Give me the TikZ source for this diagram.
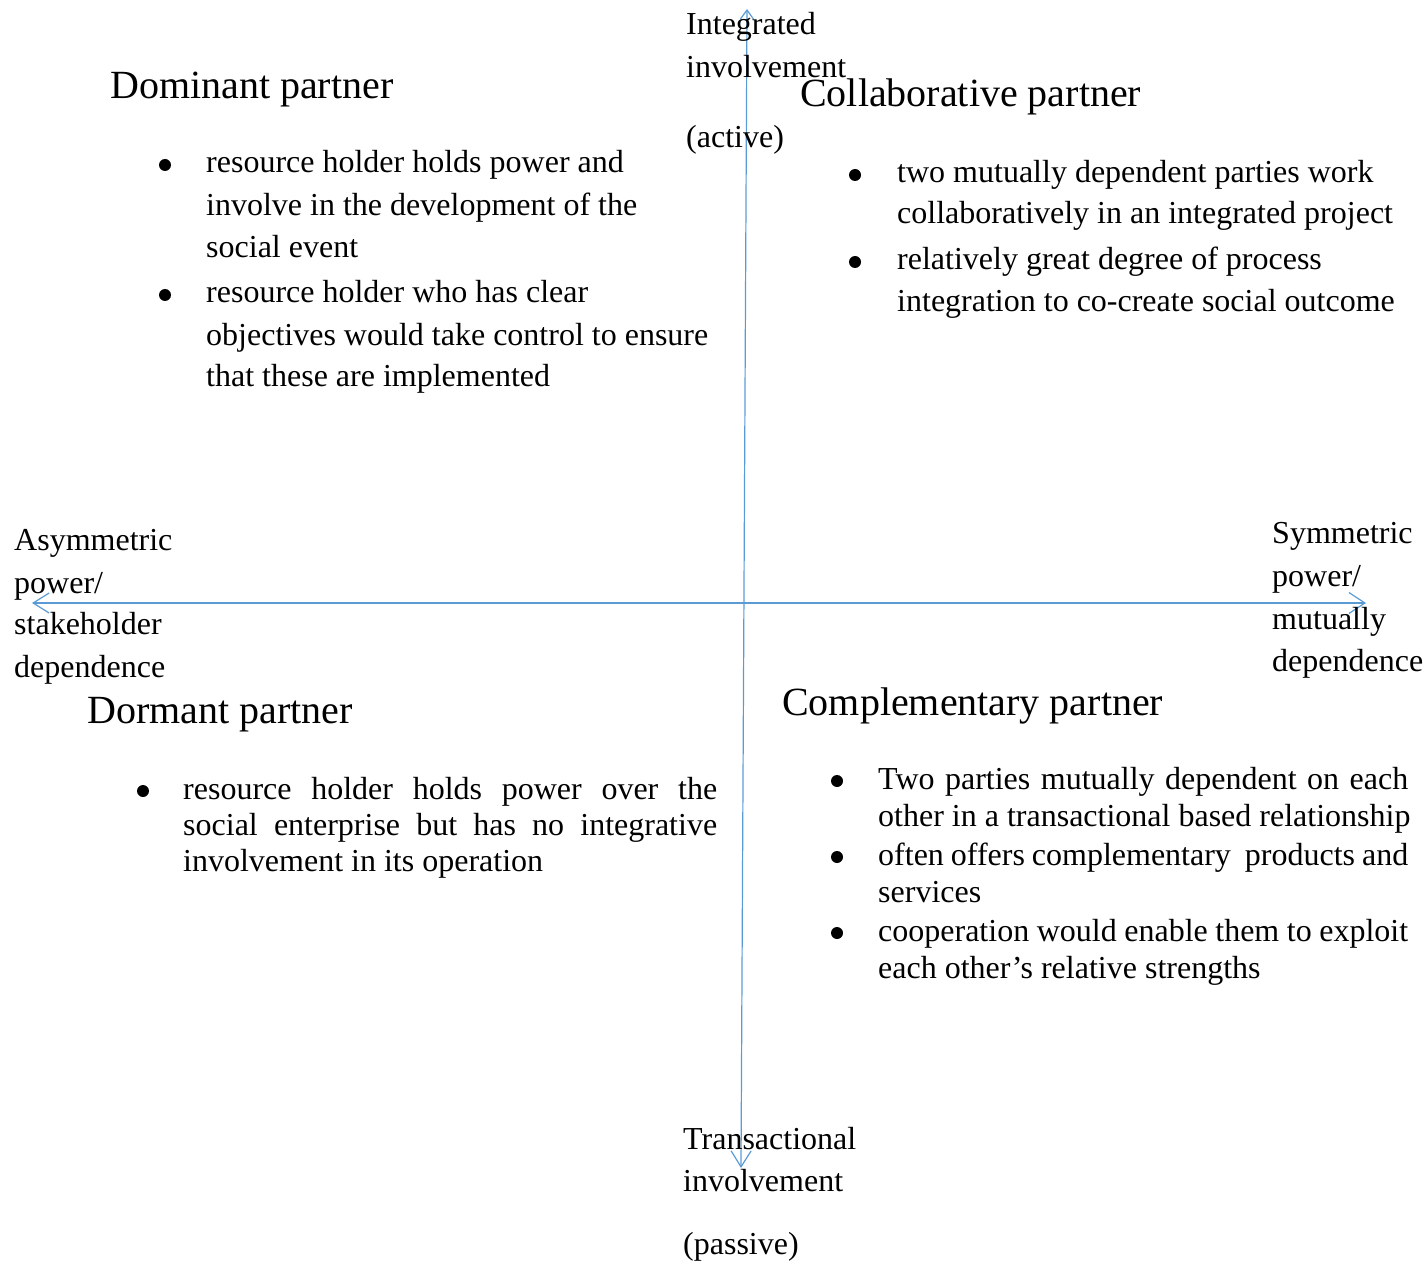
\documentclass[tikz,border=0pt]{standalone}
\usepackage{fontspec}
\setmainfont{Liberation Serif}
\usetikzlibrary{arrows.meta}
\definecolor{axisblue}{RGB}{91,155,213}
\begin{document}
\begin{tikzpicture}[x=1pt,y=-1pt,
  txt/.style={anchor=base west,inner sep=0pt,font=\fontsize{32}{38}\selectfont},
  ttl/.style={anchor=base west,inner sep=0pt,font=\fontsize{40}{48}\selectfont},
  axis/.style={draw=axisblue,line width=1.2pt},
  bul/.style={fill=black}]
\useasboundingbox (0,0) rectangle (1425,1265);
% axes
\coordinate (top) at (747,9);
\coordinate (bot) at (741,1168);
\coordinate (lft) at (32,603);
\coordinate (rgt) at (1366,603);
\draw[axis,{Straight Barb[length=16pt,width=20pt]}-{Straight Barb[length=9pt,width=13pt]}] (bot) -- (top);
\draw[axis,{Straight Barb[length=16pt,width=20pt]}-{Straight Barb[length=16pt,width=21pt]}] (lft) -- (rgt);
\begin{scope}[shift={(0,3)}]
% axis labels
\node[txt] (i1) at (686,32) {Integrated};
\node[txt] (i2) at (686,75) {involvement};
\node[txt] (i3) at (686,145) {(active)};
\node[txt] (t1) at (683,1146) {Transactional};
\node[txt] (t2) at (683,1188) {involvement};
\node[txt] (t3) at (683,1251) {(passive)};
\node[txt] (a1) at (14,547) {Asymmetric};
\node[txt] (a2) at (14,590) {power/};
\node[txt] (a3) at (14,631) {stakeholder};
\node[txt] (a4) at (14,674) {dependence};
\node[txt] (s1) at (1272,540) {Symmetric};
\node[txt] (s2) at (1272,583) {power/};
\node[txt] (s3) at (1272,626) {mutually};
\node[txt] (s4) at (1272,668) {dependence};
% Dominant partner
\node[ttl] (dom) at (110,96) {Dominant partner};
\node[txt] (d1) at (206,170) {resource holder holds power and};
\node[txt] (d2) at (206,213) {involve in the development of the};
\node[txt] (d3) at (206,255) {social event};
\node[txt] (d4) at (206,300) {resource holder who has clear};
\node[txt] (d5) at (206,342) {objectives would take control to ensure};
\node[txt] (d6) at (206,384) {that these are implemented};
\fill[bul] ([shift={(-41,-8)}]d1.base west) circle (6);
\fill[bul] ([shift={(-41,-8)}]d4.base west) circle (6);
% Collaborative partner
\node[ttl] (col) at (800,104) {Collaborative partner};
\node[txt] (c1) at (897,180) {two mutually dependent parties work};
\node[txt] (c2) at (897,221) {collaboratively in an integrated project};
\node[txt] (c3) at (897,267) {relatively great degree of process};
\node[txt] (c4) at (897,309) {integration to co-create social outcome};
\fill[bul] ([shift={(-42,-8)}]c1.base west) circle (6);
\fill[bul] ([shift={(-42,-8)}]c3.base west) circle (6);
% Dormant partner
\node[ttl] (dor) at (87,720) {Dormant partner};
\node[txt] (o1) at (183,796) {\makebox[534pt][s]{resource holder holds power over the}};
\node[txt] (o2) at (183,832) {\makebox[534pt][s]{social enterprise but has no integrative}};
\node[txt] (o3) at (183,868) {involvement in its operation};
\fill[bul] ([shift={(-40,-8)}]o1.base west) circle (6);
% Complementary partner
\node[ttl] (com) at (782,712) {Complementary partner};
\node[txt] (m1) at (878,786) {\makebox[530pt][s]{Two parties mutually dependent on each}};
\node[txt] (m2) at (878,823) {other in a transactional based relationship};
\node[txt] (m3) at (878,862) {\makebox[530pt][s]{often offers complementary\ \ products and}};
\node[txt] (m4) at (878,899) {services};
\node[txt] (m5) at (878,938) {\makebox[530pt][s]{cooperation would enable them to exploit}};
\node[txt] (m6) at (878,975) {each other’s relative strengths};
\fill[bul] ([shift={(-41,-8)}]m1.base west) circle (6);
\fill[bul] ([shift={(-41,-8)}]m3.base west) circle (6);
\fill[bul] ([shift={(-41,-8)}]m5.base west) circle (6);
\end{scope}
\end{tikzpicture}
\end{document}
